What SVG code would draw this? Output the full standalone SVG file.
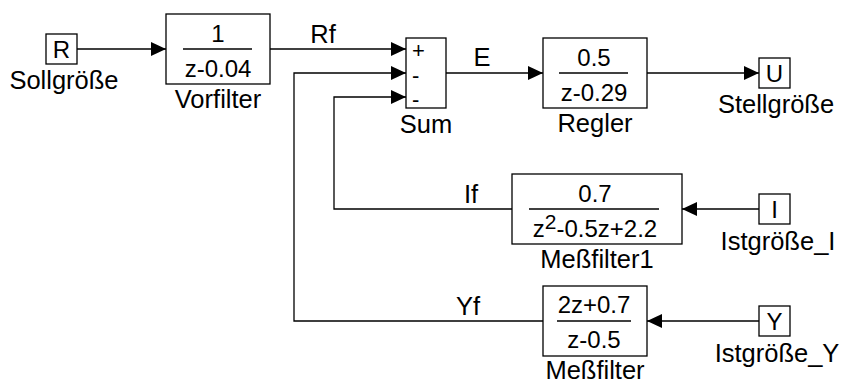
<svg xmlns="http://www.w3.org/2000/svg" width="843" height="383" viewBox="0 0 843 383">
<style>
.b{fill:#fff;stroke:#000;stroke-width:1.3}
.c{fill:none;stroke:#000;stroke-width:1.3}
.fl{stroke:#000;stroke-width:1.3}
text{font-family:"Liberation Sans",Arial,Helvetica,sans-serif;font-size:24px;fill:#000}
.m{text-anchor:middle}
.l{font-size:25.5px}
.s{font-size:22px}
</style>
<defs>
<marker id="ah" markerUnits="userSpaceOnUse" markerWidth="16" markerHeight="14" refX="15" refY="7" orient="auto">
<path d="M0,0 L15,7 L0,14 Z" fill="#000"/>
</marker>
</defs>
<rect width="843" height="383" fill="#fff"/>
<g id="connectors">
<path class="c" d="M77,49 H166" marker-end="url(#ah)"/>
<path class="c" d="M270,49 H406" marker-end="url(#ah)"/>
<path class="c" d="M446,73 H543" marker-end="url(#ah)"/>
<path class="c" d="M647,73 H759" marker-end="url(#ah)"/>
<path class="c" d="M759,209 H682" marker-end="url(#ah)"/>
<path class="c" d="M512,209 H334 V97 H406" marker-end="url(#ah)"/>
<path class="c" d="M759,321 H647" marker-end="url(#ah)"/>
<path class="c" d="M543,321 H294 V73 H406" marker-end="url(#ah)"/>
<text class="m l" x="323" y="43">Rf</text>
<text class="m l" x="482" y="66">E</text>
<text class="m l" x="471" y="203">If</text>
<text class="m l" x="468" y="315">Yf</text>
</g>
<g id="R">
<rect class="b" x="46" y="34" width="31" height="30"/>
<text class="m" x="61.5" y="57.5">R</text>
<text class="m l" x="64" y="89">Sollgröße</text>
</g>
<g id="Vorfilter">
<rect class="b" x="166" y="14" width="104" height="70"/>
<line class="fl" x1="183" y1="49" x2="252" y2="49"/>
<text class="m" x="218" y="41.5">1</text>
<text class="m" x="218" y="77">z-0.04</text>
<text class="m l" x="218" y="107.5">Vorfilter</text>
</g>
<g id="Sum">
<rect class="b" x="406" y="38" width="40" height="70"/>
<text class="s" x="412" y="58">+</text>
<text class="s" x="412" y="83">-</text>
<text class="s" x="412" y="107">-</text>
<text class="m l" x="426" y="133">Sum</text>
</g>
<g id="Regler">
<rect class="b" x="543" y="38" width="104" height="70"/>
<line class="fl" x1="559" y1="73" x2="628" y2="73"/>
<text class="m" x="594" y="66">0.5</text>
<text class="m" x="594" y="101">z-0.29</text>
<text class="m l" x="595" y="132">Regler</text>
</g>
<g id="U">
<rect class="b" x="759" y="58" width="31" height="30"/>
<text class="m" x="774.5" y="81.5">U</text>
<text class="m l" x="776" y="113">Stellgröße</text>
</g>
<g id="Messfilter1">
<rect class="b" x="512" y="174" width="170" height="70"/>
<line class="fl" x1="529" y1="209" x2="659" y2="209"/>
<text class="m" x="595" y="202">0.7</text>
<text class="m" x="595" y="237">z<tspan font-size="21" dy="-8">2</tspan><tspan dy="8">-0.5z+2.2</tspan></text>
<text class="m l" x="597" y="268">Meßfilter1</text>
</g>
<g id="I">
<rect class="b" x="759" y="194" width="31" height="30"/>
<text class="m" x="774.5" y="217.5">I</text>
<text class="m l" x="778" y="250">Istgröße_I</text>
</g>
<g id="Messfilter">
<rect class="b" x="543" y="286" width="104" height="70"/>
<line class="fl" x1="557" y1="321" x2="631" y2="321"/>
<text class="m" x="594" y="313">2z+0.7</text>
<text class="m" x="594" y="348">z-0.5</text>
<text class="m l" x="595" y="379">Meßfilter</text>
</g>
<g id="Y">
<rect class="b" x="759" y="306" width="31" height="30"/>
<text class="m" x="774.5" y="329.5">Y</text>
<text class="m l" x="777" y="362">Istgröße_Y</text>
</g>
</svg>
